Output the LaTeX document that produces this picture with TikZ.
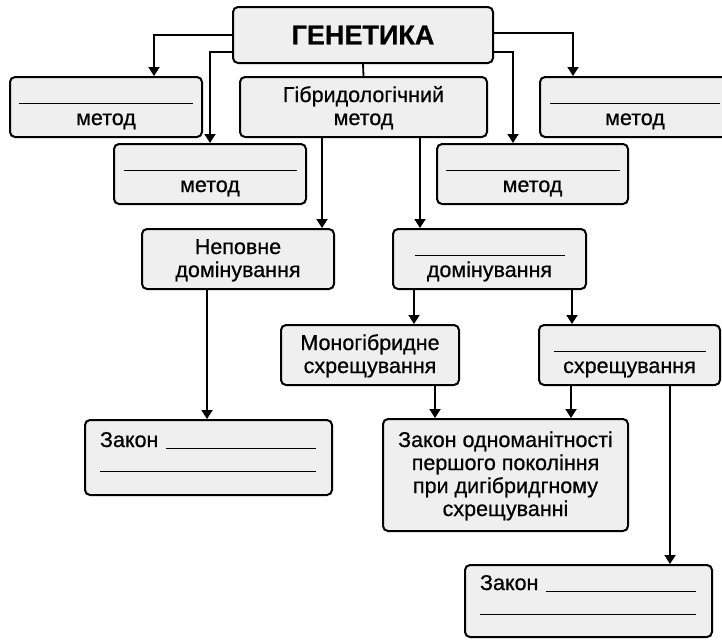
\documentclass[tikz,border=0pt]{standalone}
\usepackage{fontspec}
\setmainfont{Liberation Sans}[FakeBold=0.6]
\usepackage{xcolor}
\usepackage{tikz}
\usetikzlibrary{arrows.meta,positioning}
\definecolor{boxgray}{HTML}{EFEFEF}
\newcommand{\boxstrut}{\rule[-5pt]{0pt}{23pt}}
\newcommand{\answerline}[1]{\rule[-2pt]{#1}{1.4pt}}

\begin{document}
\begin{tikzpicture}[
    x=1pt, y=-1pt,
    every node/.style={rectangle, rounded corners=5pt, draw=black, line width=2pt, fill=boxgray, align=center, inner sep=0pt, font=\fontsize{21.5}{23}\selectfont},
    box/.style={minimum width=#1, minimum height=60pt},
    lawbox/.style={align=left, text width=217pt, minimum width=247pt},
    arr/.style={line width=1.8pt, -{Triangle[length=9pt, width=11pt]}},
    link/.style={line width=1.8pt}
]
\useasboundingbox (0,0) rectangle (722,641);

\node[box=260pt, minimum height=56pt, font=\fontsize{27}{30}\selectfont\bfseries] (gen) at (363,35) {ГЕНЕТИКА};

\node[box=192pt] (m1) at (106,107) {\answerline{173pt}\boxstrut\\метод\boxstrut};
\node[box=247pt] (hyb) at (363.5,107) {Гібридологічний\boxstrut\\метод\boxstrut};
\node[box=190pt] (m4) at (635,107) {\answerline{170pt}\boxstrut\\метод\boxstrut};
\node[box=192pt] (m2) at (210,174) {\answerline{173pt}\boxstrut\\метод\boxstrut};
\node[box=191pt] (m3) at (532.5,174) {\answerline{174pt}\boxstrut\\метод\boxstrut};

\node[box=192pt] (nep) at (238,259) {Неповне\boxstrut\\домінування\boxstrut};
\node[box=193pt] (dom) at (489.5,259) {\answerline{150pt}\boxstrut\\домінування\boxstrut};

\node[box=178pt] (mono) at (370,355) {Моногібридне\boxstrut\\схрещування\boxstrut};
\node[box=181pt] (cross) at (629.5,355) {\answerline{152pt}\boxstrut\\схрещування\boxstrut};

\node[lawbox, minimum height=75pt, text depth=39pt] (law1) at (208.5,457.5) {Закон \answerline{150pt}\boxstrut\\\answerline{216pt}\boxstrut};
\node[box=245pt, minimum height=112pt] (law2) at (505.5,475) {Закон одноманітності\boxstrut\\першого покоління\\при дигібридгному\\схрещуванні\boxstrut};
\node[lawbox, minimum height=72pt, text depth=40pt] (law3) at (588.5,601) {Закон \answerline{150pt}\boxstrut\\\answerline{216pt}\boxstrut};

\draw[arr] (gen.west) -| ([xshift=48pt]m1.north);
\draw[arr] ([yshift=-17pt]gen.west) -| (m2.north);
\draw[arr] ([yshift=2pt]gen.east) -| ([xshift=-62pt]m4.north);
\draw[arr] ([yshift=-17pt]gen.east) -| ([xshift=-19.5pt]m3.north);
\draw[link] (gen.south) -- (hyb.north);

\draw[arr] ([xshift=-41.5pt]hyb.south) -- ([xshift=84pt]nep.north);
\draw[arr] ([xshift=56.5pt]hyb.south) -- ([xshift=-69.5pt]dom.north);
\draw[arr] ([xshift=-1.5pt]law1.north |- nep.south) -- ([xshift=-1.5pt]law1.north);

\draw[arr] ([xshift=-75.5pt]dom.south) -- ([xshift=44pt]mono.north);
\draw[arr] ([xshift=82.5pt]dom.south) -- ([xshift=-57.5pt]cross.north);
\draw[arr] ([xshift=65pt]mono.south) -- ([xshift=-70.5pt]law2.north);
\draw[arr] ([xshift=-58.5pt]cross.south) -- ([xshift=65.5pt]law2.north);
\draw[arr] ([xshift=40.5pt]cross.south) -- ([xshift=81.5pt]law3.north);
\end{tikzpicture}
\end{document}
